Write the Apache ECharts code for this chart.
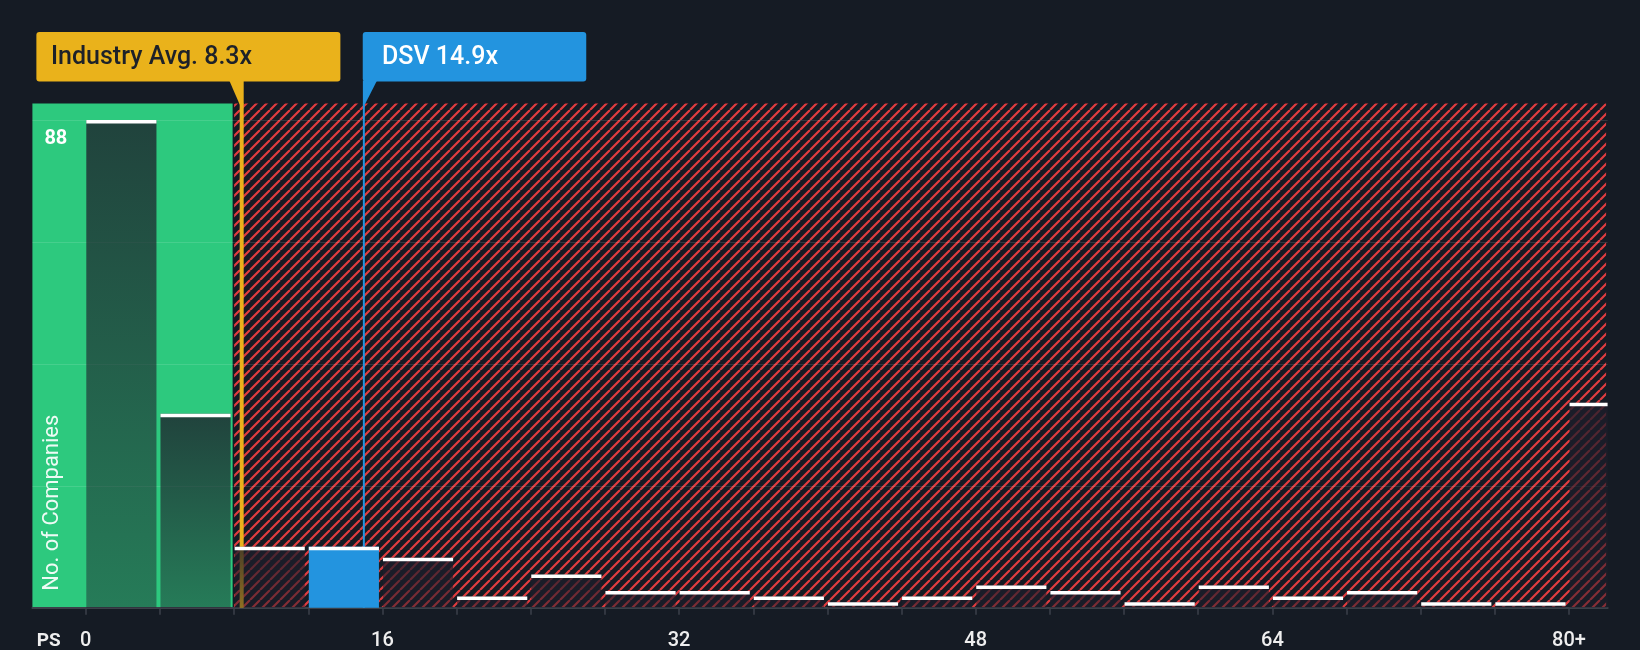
<!DOCTYPE html>
<html>
<head>
<meta charset="utf-8">
<script src="https://cdn.jsdelivr.net/npm/echarts@6/dist/echarts.min.js"></script>
<style>
html,body{margin:0;padding:0;background:#151b24;}
#c{width:1640px;height:650px;}
</style>
</head>
<body>
<div id="c"></div>
<script>
// ---- data ----
const binLow  = [0, 4, 8, 12, 16, 20, 24, 28, 32, 36, 40, 44, 48, 52, 56, 60, 64, 68, 72, 76, 80];
const binHigh = [4, 8, 12, 16, 20, 24, 28, 32, 36, 40, 44, 48, 52, 56, 60, 64, 68, 72, 76, 80, 84];
const companyCounts = [88, 35, 11, 11, 9, 2, 6, 3, 3, 2, 1, 2, 4, 3, 1, 4, 2, 3, 1, 1, 37];
const xLabelValues = [0, 16, 32, 48, 64, 80];
const xLabelTexts  = ['0', '16', '32', '48', '64', '80+'];
const yTickValues  = [0, 22, 44, 66, 88];
const yLabelValues = [88];
const industryAvg = 8.3;
const companyPS = 14.9;
const companyName = 'DSV';
const greenZoneEnd = 8;

// ---- axis extents ----
const X_MIN = -2.88, X_MAX = 82.08, Y_MAX = 91;

function makeHatch() {
  const s = 10;
  const c = document.createElement('canvas');
  c.width = s; c.height = s;
  const g = c.getContext('2d');
  g.fillStyle = '#151b24';
  g.fillRect(0, 0, s, s);
  g.strokeStyle = '#e03c3f';
  g.lineWidth = 2.2;
  g.beginPath();
  for (let k = -1; k <= 1; k++) { g.moveTo(k * s, s); g.lineTo(k * s + s, 0); }
  g.stroke();
  return c;
}
const hatchFill = { image: makeHatch(), repeat: 'repeat' };

const chart = echarts.init(document.getElementById('c'), null, { renderer: 'canvas' });
const FONT = 'Roboto, "Noto Sans", sans-serif';

const option = {
  backgroundColor: '#151b24',
  animation: false,
  grid: { left: 32.4, right: 32.4, top: 103.5, bottom: 42.3, containLabel: false, outerBoundsMode: 'none' },
  xAxis: {
    type: 'value', min: X_MIN, max: X_MAX, z: 2,
    axisLine: { show: true, onZero: false, lineStyle: { color: '#3b4049', width: 2 } },
    axisTick: { show: true, customValues: binLow, length: 7, lineStyle: { color: '#3b4049', width: 1.5 } },
    axisLabel: {
      customValues: xLabelValues,
      formatter: v => xLabelTexts[xLabelValues.indexOf(v)],
      color: '#eeeeee', fontSize: 20, fontWeight: 500, fontFamily: FONT,
      margin: 33, verticalAlign: 'middle'
    },
    splitLine: { show: false }
  },
  yAxis: {
    type: 'value', min: 0, max: Y_MAX, z: 2,
    axisLine: { show: false },
    axisTick: { show: false, customValues: yTickValues },
    axisLabel: {
      inside: true, customValues: yLabelValues, margin: 12,
      align: 'left', verticalAlign: 'top', padding: [9, 0, 0, 0],
      color: '#ffffff', fontSize: 20, fontWeight: 'bold', fontFamily: FONT
    },
    splitLine: { show: true, lineStyle: { color: 'rgba(255,255,255,0.12)', width: 1 } }
  },
  graphic: [
    {
      type: 'text', x: 52, y: 502.7, rotation: Math.PI / 2, silent: true, z: 20,
      style: { text: 'No. of Companies', fill: 'rgba(255,255,255,0.92)', font: '22px ' + FONT,
               align: 'center', verticalAlign: 'middle', textAlign: 'center', textVerticalAlign: 'middle' }
    },
    {
      type: 'text', x: 36.7, y: 641, silent: true, z: 20,
      style: { text: 'PS', fill: '#eeeeee', font: 'bold 19px ' + FONT,
               align: 'left', verticalAlign: 'middle', textAlign: 'left', textVerticalAlign: 'middle' }
    }
  ],
  series: [
    {
      type: 'custom', z: 1, silent: true,
      data: [[X_MIN, greenZoneEnd, 0], [greenZoneEnd, X_MAX, 1]],
      encode: { x: [0, 1], y: 2 },
      renderItem(params, api) {
        const cs = params.coordSys;
        const a = api.coord([api.value(0), Y_MAX]);
        const b = api.coord([api.value(1), 0]);
        const shape = echarts.graphic.clipRectByRect(
          { x: a[0], y: a[1], width: b[0] - a[0] - 1.5, height: b[1] - a[1] },
          { x: cs.x, y: cs.y, width: cs.width, height: cs.height });
        if (!shape) return null;
        return { type: 'rect', shape, style: { fill: api.value(2) === 0 ? '#2dc97e' : hatchFill } };
      }
    },
    {
      type: 'custom', z: 3, silent: true,
      data: [[industryAvg, 0], [companyPS, 1]],
      encode: { x: 0, y: 1 },
      renderItem(params, api) {
        const cs = params.coordSys;
        const v = api.value(0), kind = api.value(1);
        const lx = api.coord([v, 0])[0];
        const top = cs.y, bottom = cs.y + cs.height;
        const boxH = 49.5, boxTop = top - 71.5, boxBottom = boxTop + boxH;
        const textFont = '500 25px ' + FONT;
        if (kind === 0) {
          const col = '#eab21b';
          const bx = lx - 203.3;
          return { type: 'group', children: [
            { type: 'rect', shape: { x: lx, y: top, width: 4, height: bottom - top }, style: { fill: col } },
            { type: 'polygon', shape: { points: [[lx - 10.4, boxBottom - 1], [lx + 4, boxBottom - 1], [lx + 4, top + 1], [lx, top + 1]] }, style: { fill: col } },
            { type: 'rect', shape: { x: bx, y: boxTop, width: 304, height: boxH, r: 3 }, style: { fill: col } },
            { type: 'text', x: bx + 14.6, y: boxTop + boxH / 2 + 1,
              style: { text: 'Industry Avg. ' + v.toFixed(1) + 'x', fill: '#1d2129', font: textFont,
                       align: 'left', verticalAlign: 'middle', textAlign: 'left', textVerticalAlign: 'middle' } }
          ] };
        } else {
          const col = '#2394df';
          const bx = lx + 0.7;
          return { type: 'group', children: [
            { type: 'rect', shape: { x: lx + 0.8, y: top, width: 2, height: bottom - top }, style: { fill: col } },
            { type: 'polygon', shape: { points: [[lx + 0.8, boxBottom - 1], [lx + 15, boxBottom - 1], [lx + 2.8, top + 1], [lx + 0.8, top + 1]] }, style: { fill: col } },
            { type: 'rect', shape: { x: bx, y: boxTop, width: 223.5, height: boxH, r: 3 }, style: { fill: col } },
            { type: 'text', x: bx + 19.3, y: boxTop + boxH / 2 + 1,
              style: { text: companyName + ' ' + v.toFixed(1) + 'x', fill: '#ffffff', font: textFont,
                       align: 'left', verticalAlign: 'middle', textAlign: 'left', textVerticalAlign: 'middle' } }
          ] };
        }
      }
    },
    {
      type: 'custom', z: 4, silent: true,
      data: binLow.map((lo, i) => [lo, binHigh[i], companyCounts[i]]),
      encode: { x: [0, 1], y: 2 },
      renderItem(params, api) {
        const cs = params.coordSys;
        const clipBox = { x: cs.x, y: cs.y, width: cs.width, height: cs.height };
        const lo = api.value(0), hi = api.value(1), val = api.value(2);
        const p0 = api.coord([lo, val]);
        const p1 = api.coord([hi, 0]);
        const x = p0[0] + 0.5;
        const w = p1[0] - p0[0] - 4;
        const isCompany = companyPS >= lo && companyPS < hi;
        const body = echarts.graphic.clipRectByRect({ x, y: p0[1], width: w, height: p1[1] - p0[1] }, clipBox);
        const cap = echarts.graphic.clipRectByRect({ x, y: p0[1], width: w, height: 3.5 }, clipBox);
        const fill = isCompany ? '#2394df' : new echarts.graphic.LinearGradient(0, 0, 0, 1, [
          { offset: 0, color: 'rgba(29,29,42,0.78)' },
          { offset: 1, color: 'rgba(29,29,42,0.45)' }
        ]);
        const children = [];
        if (body) children.push({ type: 'rect', shape: body, style: { fill } });
        if (cap) children.push({ type: 'rect', shape: cap, style: { fill: '#ffffff' } });
        return { type: 'group', children };
      }
    }
  ]
};
chart.setOption(option);
</script>
</body>
</html>
